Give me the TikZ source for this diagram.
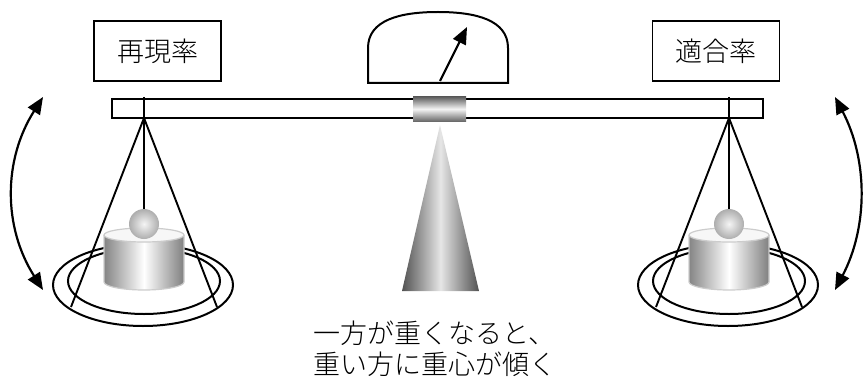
\documentclass[tikz,border=0pt]{standalone}
\usepackage{fontspec}
\newfontfamily\jpfont{Noto Sans CJK JP Light}
\usetikzlibrary{arrows.meta}

\begin{document}
\begin{tikzpicture}[x=1pt,y=-1pt,
  outline/.style={draw=black,line width=2pt},
  thinline/.style={draw=black,line width=1.9pt},
  labelbox/.style={draw,line width=1.9pt,minimum width=127pt,minimum height=60pt,
    inner sep=0pt,font=\jpfont\fontsize{27pt}{32pt}\selectfont},
  note/.style={inner sep=0pt,font=\jpfont\fontsize{27pt}{32pt}\selectfont},
  swing/.style={{Triangle[length=17pt,width=14pt]}-{Triangle[length=17pt,width=14pt]},line width=2.2pt},
  rim/.style={draw=black!20,line width=1.2pt},
]
\useasboundingbox (0,0) rectangle (866,377);

% labels above the beam
\node[labelbox] (recall) at (157.5,51) {再現率};
\node[labelbox] (precision) at (716,51) {適合率};

% gauge with its needle
\draw[outline] (368,83) -- (368,48) .. controls (368,20) and (400,12) .. (438,12)
  .. controls (476,12) and (508,20) .. (508,48) -- (508,83) -- cycle;
\coordinate (needlefoot) at (440,81);
\coordinate (needletip) at (467,27);
\draw[line width=2.2pt,-{Triangle[length=17pt,width=14pt]}] (needlefoot) -- (needletip);

% beam
\draw[outline] (112,99) rectangle (763,118);
\shade[top color=black!62,bottom color=black!58,middle color=black!4] (413,97) rectangle (466,121);

% fulcrum
\shade[left color=black!68,right color=black!68,middle color=black!10]
  (402,291) -- (440,125) -- (479,291) -- cycle;

% two hanging pans
\foreach \px in {144,729}{
  \begin{scope}[shift={(\px,0)}]
    % plates
    \draw[outline] (-1,285) ellipse [x radius=90,y radius=41];
    \draw[outline] (0,281) ellipse [x radius=76,y radius=33];
    % weight: cylinder
    \shade[left color=black!48,right color=black!50,middle color=white]
      (-40,235) -- (-40,282) arc [start angle=180,end angle=0,x radius=40,y radius=8]
      -- (40,235) -- cycle;
    \draw[rim] (-40,235) -- (-40,282) arc [start angle=180,end angle=0,x radius=40,y radius=8]
      -- (40,235);
    \filldraw[rim,fill=black!3] (0,235) ellipse [x radius=40,y radius=7];
    % hanger
    \draw[thinline] (0,97) -- (0,118);
    \draw[thinline] (0,118) -- (0,212);
    \draw[thinline] (0,118) -- (-73,307);
    \draw[thinline] (0,118) -- (73,307);
    % weight: ball
    \shade[inner color=black!4,outer color=black!32] (0,224) circle [radius=15];
  \end{scope}
}

% swing arrows
\coordinate (ltop) at (43,97);
\coordinate (lbot) at (43,290);
\coordinate (rtop) at (835,97);
\coordinate (rbot) at (835,290);
\draw[swing] (ltop) .. controls (3,160) and (3,227) .. (lbot);
\draw[swing] (rtop) .. controls (868,160) and (868,227) .. (rbot);

% caption
\node[note] (note1) at (434.5,333) {一方が重くなると、};
\node[note] (note2) at (434.5,364) {重い方に重心が傾く};
\end{tikzpicture}
\end{document}
